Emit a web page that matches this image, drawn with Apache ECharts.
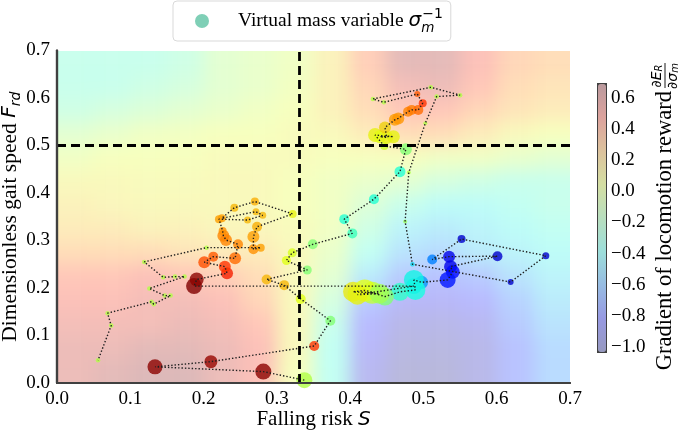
<!DOCTYPE html>
<html><head><meta charset="utf-8">
<script src="https://cdn.jsdelivr.net/npm/echarts@6/dist/echarts.min.js"></script>
<style>
html,body{margin:0;padding:0;background:#fff}
#wrap{position:relative;width:685px;height:434px;overflow:hidden}
#clip{position:absolute;left:57px;top:51px;width:513px;height:332px;overflow:hidden}
#bg{position:absolute;left:-57px;top:-51px;width:685px;height:434px;filter:blur(9px)}
#fg{position:absolute;left:0;top:0;width:685px;height:434px}
</style>
</head><body>
<div id="wrap"><div id="clip"><div id="bg"></div></div><div id="fg"></div></div>
<script>
// ---------- data ----------
const thresholdS = 0.325;
const thresholdF = 0.5;
const gradMin = -1.03, gradMax = 0.7;
const cbTicks = [-1.0, -0.8, -0.6, -0.4, -0.2, 0.0, 0.2, 0.4, 0.6];

// background gradient field (rows from top F=0.675 to bottom F=0.025)
const bgX = [0.025,0.075,0.125,0.175,0.225,0.275,0.325,0.375,0.425,0.475,0.525,0.575,0.625,0.675];
const bgY = [0.675,0.625,0.575,0.525,0.475,0.425,0.375,0.325,0.275,0.225,0.175,0.125,0.075,0.025];
const bgGrad = [
 [-0.3,-0.3,-0.3,-0.25,-0.1,-0.05,0.0,0.15,0.4,0.65,0.65,0.5,0.35,0.3],
 [-0.3,-0.3,-0.25,-0.2,-0.1,-0.05,0.02,0.15,0.35,0.55,0.6,0.45,0.3,0.25],
 [-0.25,-0.2,-0.15,-0.1,-0.05,0.0,0.05,0.15,0.3,0.45,0.45,0.35,0.25,0.2],
 [-0.1,-0.05,0.0,0.02,0.05,0.05,0.08,0.1,0.2,0.3,0.3,0.2,0.1,0.05],
 [0.0,0.05,0.05,0.05,0.08,0.08,0.08,0.05,0.05,0.05,0.0,0.0,-0.05,-0.1],
 [0.1,0.1,0.08,0.08,0.1,0.1,0.05,0.0,-0.05,-0.1,-0.2,-0.25,-0.3,-0.3],
 [0.15,0.12,0.1,0.1,0.1,0.1,0.05,0.0,-0.15,-0.3,-0.4,-0.4,-0.35,-0.3],
 [0.2,0.2,0.15,0.15,0.12,0.12,0.08,0.0,-0.25,-0.45,-0.5,-0.45,-0.4,-0.35],
 [0.3,0.3,0.3,0.25,0.2,0.2,0.1,-0.05,-0.35,-0.55,-0.6,-0.5,-0.45,-0.4],
 [0.45,0.45,0.5,0.45,0.4,0.3,0.1,-0.1,-0.5,-0.7,-0.75,-0.7,-0.55,-0.45],
 [0.5,0.5,0.55,0.55,0.5,0.35,0.1,-0.2,-0.7,-0.85,-0.85,-0.8,-0.65,-0.5],
 [0.55,0.55,0.55,0.6,0.55,0.45,0.1,-0.3,-0.8,-0.95,-0.95,-0.9,-0.7,-0.55],
 [0.6,0.6,0.65,0.65,0.6,0.5,0.1,-0.35,-0.85,-1.0,-1.0,-0.95,-0.75,-0.6],
 [0.6,0.65,0.7,0.7,0.6,0.5,0.05,-0.35,-0.9,-1.03,-1.03,-0.95,-0.75,-0.6]
];

// trajectory (in order): falling risk S, gait speed Fr, virtual mass variable, gradient
const trajS = [0.3375,0.2815,0.1337,0.210,0.351,0.373,0.3325,0.310,0.286,0.3415,0.313,0.321,0.349,0.403,0.392,0.4325,0.468,0.476,0.4466,0.434,0.459,0.4407,0.45,0.4475,0.461,0.4657,0.479,0.484,0.493,0.499,0.4916,0.446,0.431,0.510,0.550,0.518,0.5026,0.480,0.475,0.485,0.619,0.667,0.552,0.512,0.535,0.601,0.537,0.540,0.533,0.4975,0.487,0.489,0.468,0.4475,0.43,0.404,0.42,0.44,0.41,0.487,0.187,0.1906,0.232,0.229,0.201,0.2133,0.243,0.247,0.2306,0.227,0.226,0.221,0.260,0.2807,0.2715,0.225,0.242,0.270,0.3215,0.273,0.268,0.268,0.278,0.204,0.119,0.145,0.161,0.174,0.126,0.147,0.155,0.132,0.129,0.069,0.074,0.056];
const trajF = [0.006,0.024,0.034,0.045,0.078,0.131,0.177,0.206,0.218,0.238,0.258,0.274,0.292,0.315,0.345,0.387,0.445,0.492,0.499,0.522,0.5186,0.5186,0.517,0.538,0.554,0.557,0.571,0.575,0.575,0.589,0.6084,0.591,0.598,0.6225,0.606,0.603,0.547,0.443,0.340,0.250,0.2126,0.268,0.303,0.260,0.266,0.267,0.245,0.234,0.217,0.212,0.217,0.196,0.192,0.182,0.19,0.192,0.195,0.188,0.186,0.204,0.204,0.218,0.231,0.245,0.254,0.266,0.2625,0.292,0.301,0.310,0.32,0.345,0.343,0.353,0.3606,0.347,0.369,0.382,0.356,0.329,0.308,0.2815,0.285,0.285,0.255,0.2225,0.224,0.224,0.199,0.184,0.184,0.166,0.171,0.147,0.121,0.048];
const trajMass = [1.6,1.6,1.5,1.3,1.0,1.0,1.0,1.0,1.0,0.9,0.9,0.9,1.0,1.0,1.0,1.0,1.1,1.2,0.8,1.4,1.3,1.3,1.3,1.2,1.2,1.2,1.0,1.0,1.0,0.8,0.6,0.45,0.45,0.45,0.45,0.45,0.4,0.4,0.4,0.45,0.6,0.7,0.8,1.0,1.2,1.0,1.3,1.4,1.6,1.3,2.0,2.0,1.8,1.8,2.2,2.0,2.2,2.0,2.0,1.6,1.6,1.4,1.2,1.2,1.2,1.0,1.2,1.0,1.2,1.2,0.8,0.8,0.7,0.7,0.7,0.8,0.8,0.8,0.8,1.0,1.2,1.0,0.8,0.45,0.45,0.45,0.45,0.45,0.45,0.45,0.45,0.45,0.45,0.45,0.45,0.45];
const trajGrad = [-0.05,0.68,0.68,0.66,0.45,-0.15,0.05,0.2,0.2,-0.15,0.05,0.03,-0.15,-0.3,-0.35,-0.35,-0.35,-0.15,0.0,0.08,0.08,0.06,0.08,0.15,0.25,0.27,0.3,0.32,0.35,0.45,0.38,-0.05,-0.05,-0.05,-0.05,-0.05,-0.05,-0.05,-0.1,-0.45,-0.9,-0.9,-0.9,-0.6,-0.85,-0.9,-0.85,-0.8,-0.78,-0.55,-0.4,-0.38,-0.33,-0.15,-0.02,0.1,0.05,-0.08,0.08,-0.4,0.7,0.68,0.5,0.45,0.4,0.38,0.35,0.3,0.3,0.3,0.28,0.25,0.2,0.2,0.2,0.25,0.2,0.22,0.08,0.22,0.25,0.28,0.25,-0.05,-0.05,-0.05,-0.05,-0.05,-0.05,-0.05,-0.05,-0.05,-0.05,-0.05,-0.05,-0.05];

// ---------- styles ----------
const bgStep = 0.05;
const jet = ['#000080','#0000ff','#0080ff','#15ffe2','#7bff7b','#e2ff15','#ff9700','#ff2100','#800000'];
function alpha(hex, a){const n=parseInt(hex.slice(1),16);return `rgba(${n>>16},${(n>>8)&255},${n&255},${a})`;}
const jetSoft = jet.map(c=>alpha(c,0.27));
const SERIF = '"Liberation Serif", "Times New Roman", serif';
const MATH = '"DejaVu Sans", sans-serif';
const frame = '#404040';
const gridRect = {left:57, top:50.5, width:513, height:332.5};

// ---------- background field chart ----------
const bgData = [];
bgY.forEach((y, r) => bgX.forEach((x, c) => bgData.push([x, y, bgGrad[r][c]])));
const bg = echarts.init(document.getElementById('bg'), null, {renderer:'canvas'});
bg.setOption({
  animation:false,
  grid:Object.assign({outerBoundsMode:'none'}, gridRect),
  xAxis:{type:'value', min:0, max:0.7, show:false},
  yAxis:{type:'value', min:0, max:0.7, show:false},
  visualMap:{show:false, min:gradMin, max:gradMax, dimension:2, seriesIndex:0, inRange:{color:jetSoft}},
  series:[{
    type:'custom', clip:false, data:bgData,
    renderItem(params, api){
      const x = api.value(0), y = api.value(1);
      const c = api.coord([x, y]);
      const s = api.size([bgStep, bgStep]);
      let x0=c[0]-s[0]/2, x1=c[0]+s[0]/2, y0=c[1]-s[1]/2, y1=c[1]+s[1]/2;
      const pad = 30;
      if (x === bgX[0]) x0 -= pad;
      if (x === bgX[bgX.length-1]) x1 += pad;
      if (y === bgY[0]) y0 -= pad;
      if (y === bgY[bgY.length-1]) y1 += pad;
      return {type:'rect', shape:{x:x0, y:y0, width:x1-x0+0.6, height:y1-y0+0.6}, style:{fill:api.visual('color')}};
    }
  }]
});

// ---------- main chart ----------
const fg = echarts.init(document.getElementById('fg'), null, {renderer:'canvas'});
const pts = trajS.map((s,i)=>[s, trajF[i], trajMass[i], trajGrad[i]]);
const path = trajS.map((s,i)=>[s, trajF[i]]);
const tickFmt = v => v.toFixed(1);
const cbFmt = v => (v < 0 ? '\u2212' + Math.abs(v).toFixed(1) : v.toFixed(1));
const lbl = {fontFamily:SERIF, fontSize:19, color:'#000'};
const frameLine = {show:true, lineStyle:{color:frame, width:2.2}};

fg.setOption({
  animation:false,
  legend:{
    left:173, top:1, padding:[6,8,6,22], itemWidth:14, itemHeight:14, icon:'circle',
    borderColor:'#d9d9d9', borderWidth:1, borderRadius:4, selectedMode:false,
    data:[{name:'Virtual mass variable', icon:'circle', itemStyle:{color:'#7fcfb6', opacity:1}}],
    formatter:()=>'{a|Virtual mass variable }{s|σ}{sb|m}{sp|\u22121}',
    textStyle:{rich:{
      a:{fontFamily:SERIF, fontSize:19.5, color:'#000', padding:[0,0,0,24], lineHeight:28},
      s:{fontFamily:MATH, fontStyle:'italic', fontSize:20, color:'#000', lineHeight:28},
      sb:{fontFamily:MATH, fontStyle:'italic', fontSize:13.5, color:'#000', verticalAlign:'bottom', width:1, lineHeight:28},
      sp:{fontFamily:MATH, fontSize:14, color:'#000', verticalAlign:'top', lineHeight:28}
    }}
  },
  grid:[
    Object.assign({outerBoundsMode:'none'}, gridRect),
    {outerBoundsMode:'none', left:597, top:98, width:8, height:249}
  ],
  xAxis:[
    {type:'value', gridIndex:0, min:0, max:0.7, interval:0.1, z:10,
     axisLine:frameLine, axisTick:{show:false}, splitLine:{show:false},
     axisLabel:Object.assign({margin:7, formatter:tickFmt}, lbl),
     name:'{a|Falling risk }{i|S}', nameLocation:'middle', nameGap:26, nameMoveOverlap:false,
     nameTextStyle:{rich:{a:{fontFamily:SERIF, fontSize:21, color:'#000'}, i:{fontFamily:MATH, fontStyle:'italic', fontSize:20, color:'#000'}}}},
    {type:'value', gridIndex:0, position:'top', min:0, max:0.7, z:10,
     axisLine:frameLine, axisTick:{show:false}, axisLabel:{show:false}, splitLine:{show:false}},
    {type:'value', gridIndex:1, show:false, min:0, max:1}
  ],
  yAxis:[
    {type:'value', gridIndex:0, min:0, max:0.7, interval:0.1, z:10,
     axisLine:frameLine, axisTick:{show:false}, splitLine:{show:false},
     axisLabel:Object.assign({margin:7, formatter:tickFmt}, lbl),
     name:'{a|Dimensionless gait speed }{i|F}{s|rd}', nameLocation:'middle', nameGap:34, nameMoveOverlap:false,
     nameTextStyle:{rich:{
       a:{fontFamily:SERIF, fontSize:21.5, color:'#000', lineHeight:26},
       i:{fontFamily:MATH, fontStyle:'italic', fontSize:20, color:'#000', lineHeight:26},
       s:{fontFamily:MATH, fontStyle:'italic', fontSize:14, color:'#000', verticalAlign:'bottom', lineHeight:26}}}},
    {type:'value', gridIndex:0, position:'right', min:0, max:0.7, z:10,
     axisLine:frameLine, axisTick:{show:false}, axisLabel:{show:false}, splitLine:{show:false}},
    {type:'value', gridIndex:1, position:'right', min:cbTicks[0], max:cbTicks[cbTicks.length-1], interval:0.2,
     axisLine:{show:false}, axisTick:{show:false}, splitLine:{show:false},
     axisLabel:Object.assign({margin:6, formatter:cbFmt, showMinLabel:true, showMaxLabel:true}, lbl)}
  ],
  visualMap:[
    {type:'continuous', show:true, seriesIndex:[], min:gradMin, max:gradMax, calculable:false,
     orient:'vertical', left:597, top:83, itemWidth:8, itemHeight:268, padding:0,
     borderColor:frame, borderWidth:2, inRange:{color:jetSoft}},
    {type:'continuous', show:false, seriesIndex:0, dimension:3, min:gradMin, max:gradMax, inRange:{color:jet}}
  ],
  graphic:[{
    type:'group', x:665, y:91, rotation:Math.PI/2, children:[
      {type:'text', x:0, y:0, style:{text:'Gradient of locomotion reward', font:'22.5px ' + SERIF, fill:'#000', align:'right', verticalAlign:'middle'}},
      {type:'text', x:15, y:-1, style:{text:'{i|∂E}{s|R}', align:'center', verticalAlign:'bottom',
        rich:{i:{fontFamily:MATH, fontStyle:'italic', fontSize:14, fill:'#000'}, s:{fontFamily:MATH, fontStyle:'italic', fontSize:10, fill:'#000', verticalAlign:'bottom'}}}},
      {type:'line', shape:{x1:3, y1:0, x2:28, y2:0}, style:{stroke:'#000', lineWidth:0.9}},
      {type:'text', x:15, y:1, style:{text:'{i|∂σ}{s|m}', align:'center', verticalAlign:'top',
        rich:{i:{fontFamily:MATH, fontStyle:'italic', fontSize:14, fill:'#000'}, s:{fontFamily:MATH, fontStyle:'italic', fontSize:10, fill:'#000', verticalAlign:'bottom'}}}}
    ]
  }],
  series:[
    {name:'Virtual mass variable', type:'scatter', xAxisIndex:0, yAxisIndex:0, data:pts,
     symbolSize:v=>v[2]*10, itemStyle:{opacity:0.8}, z:3, silent:true},
    {name:'trajectory', type:'line', xAxisIndex:0, yAxisIndex:0, data:path, symbol:'none', z:4, silent:true,
     lineStyle:{color:'#1e1e1e', width:1.4, type:[1.4,2]},
     markLine:{silent:true, symbol:'none', label:{show:false},
       lineStyle:{color:'#000', width:2.8, type:[9,5]},
       data:[{xAxis:thresholdS}, {yAxis:thresholdF}]}}
  ]
});
</script>
</body></html>
